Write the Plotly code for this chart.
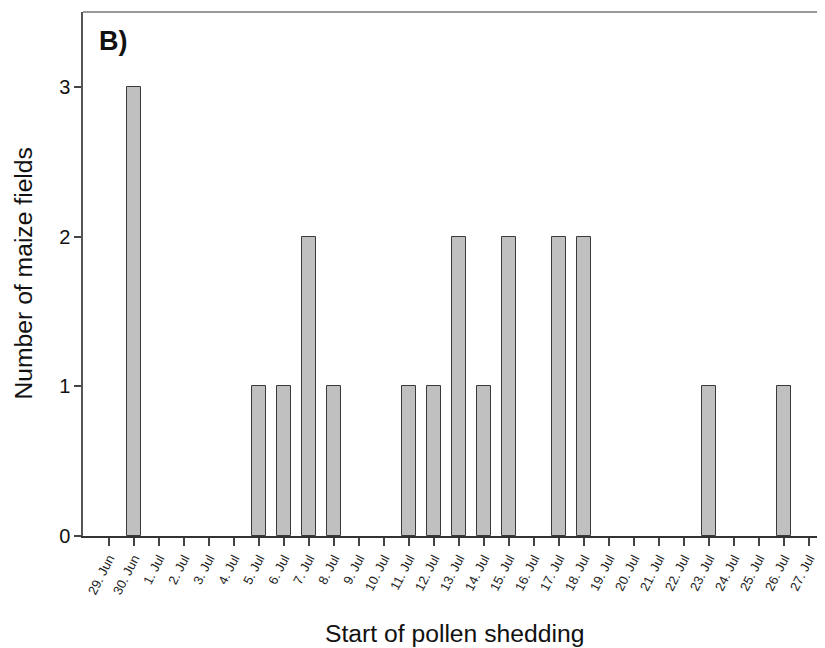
import plotly.graph_objects as go

dates = ["29. Jun", "30. Jun"] + [f"{d}. Jul" for d in range(1, 28)]
counts = [0, 3, 0, 0, 0, 0, 1, 1, 2, 1, 0, 0, 1, 1, 2, 1, 2, 0, 2, 2,
          0, 0, 0, 0, 1, 0, 0, 1, 0]
y_ticks = [0, 1, 2, 3]

FONT = "Liberation Sans, Arial, sans-serif"

bar_x = [i for i, c in enumerate(counts) if c > 0]
bar_y = [c for c in counts if c > 0]

fig = go.Figure()
fig.add_trace(go.Bar(
    x=bar_x,
    y=bar_y,
    width=0.53,
    marker=dict(color="#c0c0c0", line=dict(color="#3a3a3a", width=1)),
    showlegend=False,
))

fig.update_layout(
    width=825, height=648,
    margin=dict(l=75, r=8, t=4, b=120),
    paper_bgcolor="white", plot_bgcolor="white",
    font=dict(family=FONT, color="#111"),
    bargap=0,
    xaxis=dict(
        range=[-1.04, 28.64],
        tickmode="array",
        tickvals=list(range(len(dates))),
        ticktext=dates,
        tickangle=-63,
        tickfont=dict(size=13, family=FONT, color="#222"),
        ticks="outside", ticklen=8, tickwidth=1.5, tickcolor="#444",
        showline=True, linecolor="#333", linewidth=1.5,
        showgrid=False, zeroline=False, automargin=False,
    ),
    yaxis=dict(
        range=[0, 3.5],
        tickmode="array",
        tickvals=y_ticks,
        ticktext=[str(v) for v in y_ticks],
        tickfont=dict(size=20, family=FONT, color="#111"),
        ticks="outside", ticklen=7, tickwidth=1.5, tickcolor="#444",
        showline=True, linecolor="#555", linewidth=1.5,
        showgrid=False, zeroline=False, automargin=False,
    ),
    shapes=[dict(type="line", xref="paper", yref="paper", x0=0, x1=1, y0=1, y1=1,
                 line=dict(color="#777", width=1.5))],
    annotations=[
        dict(text="<b>B)</b>", xref="paper", yref="paper", x=0.019, y=0.978,
             xanchor="left", yanchor="top", showarrow=False,
             font=dict(size=27, family=FONT, color="#111")),
        dict(text="Start of pollen shedding", xref="paper", yref="paper",
             x=0.5, y=-0.186, xanchor="center", yanchor="middle", showarrow=False,
             font=dict(size=24.7, family=FONT, color="#111")),
        dict(text="Number of maize fields", xref="paper", yref="paper",
             x=-0.0815, y=0.5, xanchor="center", yanchor="middle", showarrow=False,
             textangle=-90, font=dict(size=24.7, family=FONT, color="#111")),
    ],
)

fig.write_html("out.html")
